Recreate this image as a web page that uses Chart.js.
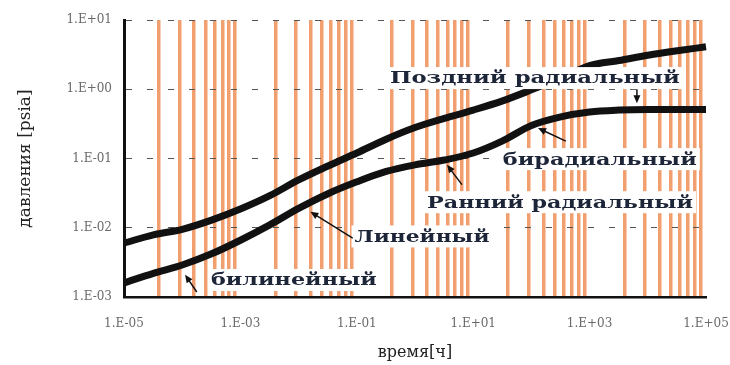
<!DOCTYPE html>
<html>
<head>
<meta charset="utf-8">
<script src="https://cdn.jsdelivr.net/npm/chart.js@4.4.1/dist/chart.umd.min.js"></script>
<style>
  html, body { margin: 0; padding: 0; background: #fff; }
</style>
</head>
<body>
<canvas id="pressureChart" width="730" height="365"></canvas>
<script>
// time axis (hours) and both curves
const timeHours = [1e-5, 3.2e-5, 1e-4, 3.2e-4, 1e-3, 3.2e-3, 1e-2, 3.2e-2, 0.1, 0.32, 1, 3.2, 10, 32, 100, 320, 1000, 3200, 1e4, 3.2e4, 1e5]
const pressure = [0.006, 0.0079, 0.0095, 0.0129, 0.0186, 0.029, 0.049, 0.078, 0.12, 0.19, 0.28, 0.38, 0.5, 0.68, 0.98, 1.45, 2.2, 2.6, 3.1, 3.6, 4.1]
const derivative = [0.0016, 0.0022, 0.0029, 0.0042, 0.0066, 0.011, 0.019, 0.031, 0.046, 0.065, 0.081, 0.095, 0.12, 0.18, 0.3, 0.4, 0.47, 0.5, 0.51, 0.51, 0.51]

const xTicks = [1e-5, 1e-3, 1e-1, 1e1, 1e3, 1e5]
const xTickLabels = ["1.E-05", "1.E-03", "1.E-01", "1.E+01", "1.E+03", "1.E+05"]
const yTicks = [1e-3, 1e-2, 1e-1, 1, 10]
const yTickLabels = ["1.E-03", "1.E-02", "1.E-01", "1.E+00", "1.E+01"]

// orange minor lines: 2..9 steps inside each two-decade cycle
const cycleStarts = [1e-5, 1e-3, 1e-1, 1e1, 1e3]
const cycleSteps = [4, 9, 16, 25, 36, 49, 64, 81]
const minorX = cycleStarts.flatMap(s => cycleSteps.map(k => s * k))

// flow regime labels with arrows (data coordinates)
const notes = [
    { text: "Поздний радиальный", x: 115, y: 1.45, width: 290, tail: [6500, 1.0], tip: [6500, 0.63] },
    { text: "бирадиальный", x: 1500, y: 0.098, width: 194, tail: [390, 0.178], tip: [130, 0.275] },
    { text: "Ранний радиальный", x: 310, y: 0.0234, width: 266, tail: [6.4, 0.042], tip: [3.55, 0.081] },
    { text: "Линейный", x: 1.32, y: 0.0075, width: 135, tail: [0.085, 0.0071], tip: [0.0159, 0.017] },
    { text: "билинейный", x: 0.0083, y: 0.00176, width: 166, tail: [1.78e-4, 0.00118], tip: [1.12e-4, 0.0021] }
]

const toPoints = ys => timeHours.map((t, i) => ({ x: t, y: ys[i] }))

const drawArrow = (ctx, x0, y0, x1, y1) => {
    const ang = Math.atan2(y1 - y0, x1 - x0)
    ctx.strokeStyle = "#111"
    ctx.lineWidth = 1.5
    ctx.beginPath()
    ctx.moveTo(x0, y0)
    ctx.lineTo(x1 - 5 * Math.cos(ang), y1 - 5 * Math.sin(ang))
    ctx.stroke()
    ctx.fillStyle = "#111"
    ctx.beginPath()
    ctx.moveTo(x1, y1)
    ctx.lineTo(x1 - 8 * Math.cos(ang) + 3.5 * Math.sin(ang), y1 - 8 * Math.sin(ang) - 3.5 * Math.cos(ang))
    ctx.lineTo(x1 - 8 * Math.cos(ang) - 3.5 * Math.sin(ang), y1 - 8 * Math.sin(ang) + 3.5 * Math.cos(ang))
    ctx.closePath()
    ctx.fill()
}

const notesPlugin = {
    id: "notes",
    afterDatasetsDraw(chart) {
        const { ctx } = chart
        const xs = chart.scales.x
        const ys = chart.scales.y
        ctx.save()
        ctx.font = "bold 17px 'DejaVu Serif'"
        notes.forEach(n => {
            const cx = xs.getPixelForValue(n.x)
            const cy = ys.getPixelForValue(n.y)
            const w = ctx.measureText(n.text).width
            ctx.fillStyle = "#fff"
            ctx.fillRect(cx - n.width / 2 - 3, cy - 11, n.width + 6, 22)
            ctx.save()
            ctx.translate(cx, cy)
            ctx.scale(n.width / w, 1)
            ctx.fillStyle = "#1d2538"
            ctx.textAlign = "center"
            ctx.textBaseline = "middle"
            ctx.fillText(n.text, 0, 1)
            ctx.restore()
            drawArrow(ctx,
                xs.getPixelForValue(n.tail[0]), ys.getPixelForValue(n.tail[1]),
                xs.getPixelForValue(n.tip[0]), ys.getPixelForValue(n.tip[1]))
        })
        ctx.restore()
    }
}

const tickFont = { family: "'DejaVu Serif'", size: 12 }

new Chart(document.getElementById("pressureChart"), {
    type: "line",
    data: {
        datasets: [
            {
                label: "давление",
                data: toPoints(pressure),
                borderColor: "#111",
                borderWidth: 7,
                pointRadius: 0,
                cubicInterpolationMode: "monotone",
                clip: 6
            },
            {
                label: "производная",
                data: toPoints(derivative),
                borderColor: "#111",
                borderWidth: 7,
                pointRadius: 0,
                cubicInterpolationMode: "monotone",
                clip: 6
            }
        ]
    },
    options: {
        responsive: false,
        animation: false,
        devicePixelRatio: 1,
        layout: { padding: { top: 20, right: 24, left: 0, bottom: 0 } },
        plugins: { legend: { display: false }, tooltip: { enabled: false } },
        scales: {
            x: {
                type: "logarithmic",
                min: 1e-5,
                max: 1e5,
                position: "bottom",
                afterBuildTicks: s => { s.ticks = xTicks.map(v => ({ value: v })) },
                afterFit: s => {
                    s.height = 68
                    s.paddingLeft = 0
                    s.paddingRight = 0
                },
                ticks: {
                    color: "#6a6a6a",
                    font: tickFont,
                    padding: 12,
                    maxRotation: 0,
                    autoSkip: false,
                    callback: v => xTickLabels[xTicks.indexOf(v)]
                },
                grid: { display: false },
                border: { color: "#111", width: 2.5 },
                title: {
                    display: true,
                    text: "время[ч]",
                    color: "#222",
                    font: { family: "'DejaVu Serif'", size: 16 },
                    padding: { top: 0, bottom: 3 }
                }
            },
            xMinor: {
                type: "logarithmic",
                min: 1e-5,
                max: 1e5,
                position: "bottom",
                afterBuildTicks: s => { s.ticks = minorX.map(v => ({ value: v })) },
                afterFit: s => {
                    s.height = 0
                    s.paddingLeft = 0
                    s.paddingRight = 0
                },
                ticks: { display: false },
                grid: { color: "rgba(238, 132, 72, 0.78)", lineWidth: 3.5, drawTicks: false },
                border: { display: false }
            },
            y: {
                type: "logarithmic",
                min: 1e-3,
                max: 10,
                afterBuildTicks: s => { s.ticks = yTicks.map(v => ({ value: v })) },
                afterFit: s => {
                    s.width = 124
                    s.paddingTop = 0
                    s.paddingBottom = 0
                },
                ticks: {
                    color: "#6a6a6a",
                    font: tickFont,
                    padding: 12,
                    autoSkip: false,
                    callback: v => yTickLabels[yTicks.indexOf(v)]
                },
                grid: { color: "#555", lineWidth: 1, drawTicks: false },
                border: { color: "#111", width: 3, dash: [6, 15] },
                title: {
                    display: true,
                    text: "давления [psia]",
                    color: "#222",
                    font: { family: "'DejaVu Serif'", size: 17 },
                    padding: { top: 15, bottom: 0 }
                }
            }
        }
    },
    plugins: [notesPlugin]
})
</script>
</body>
</html>
